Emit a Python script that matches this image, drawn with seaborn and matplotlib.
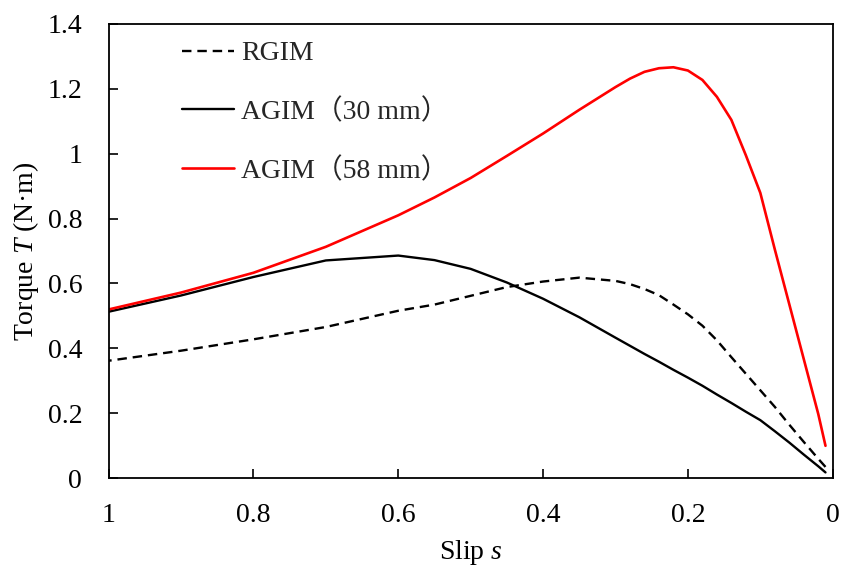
import matplotlib
matplotlib.use("Agg")
import matplotlib.pyplot as plt
import pandas as pd
import seaborn as sns

# slip values (same grid for all three curves)
slip = [1, 0.9, 0.8, 0.7, 0.6, 0.55, 0.5, 0.45, 0.4, 0.35, 0.3, 0.28, 0.26,
        0.24, 0.22, 0.2, 0.18, 0.16, 0.14, 0.12, 0.1, 0.08, 0.06, 0.04, 0.02, 0.01]

torque_rgim = [0.362, 0.393, 0.428, 0.466, 0.516, 0.535, 0.562, 0.589, 0.606, 0.618,
               0.608, 0.598, 0.583, 0.564, 0.535, 0.505, 0.47, 0.425, 0.373, 0.322,
               0.271, 0.22, 0.165, 0.112, 0.06, 0.035]
torque_agim30 = [0.513, 0.563, 0.62, 0.671, 0.686, 0.672, 0.645, 0.603, 0.553, 0.496,
                 0.433, 0.408, 0.383, 0.359, 0.334, 0.31, 0.285, 0.258, 0.232, 0.205,
                 0.179, 0.145, 0.11, 0.073, 0.037, 0.018]
torque_agim58 = [0.52, 0.572, 0.633, 0.713, 0.81, 0.865, 0.925, 0.993, 1.062, 1.135,
                 1.205, 1.231, 1.252, 1.263, 1.266, 1.256, 1.227, 1.175, 1.104, 0.995,
                 0.879, 0.705, 0.536, 0.367, 0.198, 0.10]

labels = ["RGIM", "AGIM（30 mm）", "AGIM（58 mm）"]
x_ticks = [1, 0.8, 0.6, 0.4, 0.2, 0]
x_ticklabels = ["1", "0.8", "0.6", "0.4", "0.2", "0"]
y_ticks = [0, 0.2, 0.4, 0.6, 0.8, 1.0, 1.2, 1.4]
y_ticklabels = ["0", "0.2", "0.4", "0.6", "0.8", "1", "1.2", "1.4"]

sns.set_theme(style="white")
plt.rcParams["font.family"] = ["Liberation Serif", "Noto Sans CJK JP"]
plt.rcParams["mathtext.fontset"] = "custom"
plt.rcParams["mathtext.rm"] = "Liberation Serif"
plt.rcParams["mathtext.it"] = "Liberation Serif:italic"

df = pd.DataFrame({"slip": slip, "rgim": torque_rgim,
                   "agim30": torque_agim30, "agim58": torque_agim58})

fig = plt.figure(figsize=(8.42, 5.66), dpi=100)
ax = fig.add_axes([0.129, 0.155, 0.860, 0.803])

sns.lineplot(data=df, x="slip", y="rgim", ax=ax, color="black", linewidth=1.7,
             linestyle=(0, (4, 2.5)), label=labels[0])
sns.lineplot(data=df, x="slip", y="agim30", ax=ax, color="black", linewidth=1.7,
             label=labels[1])
sns.lineplot(data=df, x="slip", y="agim58", ax=ax, color="#ff0000", linewidth=1.9,
             label=labels[2])

ax.set_xlim(1, 0)
ax.set_ylim(0, 1.4)
ax.set_xticks(x_ticks)
ax.set_xticklabels(x_ticklabels)
ax.set_yticks(y_ticks)
ax.set_yticklabels(y_ticklabels)
ax.tick_params(axis="both", direction="in", length=6.5, width=1.2, labelsize=20,
               color="black", labelcolor="black", bottom=True, left=True)
ax.tick_params(axis="x", pad=18)
ax.tick_params(axis="y", pad=19)
for sp in ax.spines.values():
    sp.set_color("black")
    sp.set_linewidth(1.3)

ax.set_xlabel("Slip $s$", fontsize=20, color="black", labelpad=7)
ax.set_ylabel("Torque $T$ (N·m)", fontsize=20, color="black", labelpad=5)

ax.legend(loc="upper left", bbox_to_anchor=(0.102, 0.962), frameon=False, fontsize=20,
          handlelength=1.85, handletextpad=0.25, labelspacing=1.16, borderpad=0,
          borderaxespad=0)

fig.savefig("out.png", dpi=100)
